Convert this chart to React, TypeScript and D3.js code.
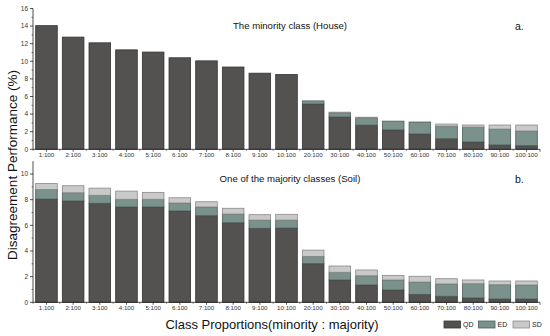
import React from "react";
import * as d3 from "d3";

const categories = ["1:100","2:100","3:100","4:100","5:100","6:100","7:100","8:100","9:100","10:100","20:100","30:100","40:100","50:100","60:100","70:100","80:100","90:100","100:100"];

// Panel a: House (stacked QD, ED, SD)
const houseQD = [14.05,12.75,12.1,11.3,11.05,10.4,10.05,9.35,8.65,8.5,5.15,3.67,2.75,2.2,1.74,1.2,0.83,0.49,0.41];
const houseED = [0,0,0,0,0,0,0,0,0,0,0.35,0.45,0.8,1.0,1.36,1.44,1.69,1.81,1.67];
const houseSD = [0,0,0,0,0,0,0,0,0,0,0,0.1,0.1,0,0,0.23,0.24,0.46,0.68];

// Panel b: Soil
const soilQD = [8.05,7.9,7.72,7.43,7.43,7.12,6.75,6.2,5.77,5.79,3.01,1.74,1.35,0.96,0.62,0.47,0.34,0.26,0.26];
const soilED = [0.75,0.64,0.62,0.6,0.6,0.62,0.68,0.68,0.64,0.62,0.57,0.6,0.72,0.78,0.96,0.96,1.11,1.11,1.09];
const soilSD = [0.47,0.55,0.56,0.64,0.54,0.41,0.41,0.45,0.42,0.45,0.49,0.49,0.45,0.36,0.45,0.41,0.29,0.29,0.31];

const yTicksA = [0,2,4,6,8,10,12,14,16];
const yTicksB = [0,2,4,6,8,10];
const seriesNames = ["QD","ED","SD"];
const colors = ["#545251","#7b918c","#c9c9c9"];
const strokes = ["#333333","#4e5e5a","#8a8a8a"];

const FONT = "Arial, 'Liberation Sans', Helvetica, sans-serif";

function Panel({ qd, ed, sd, domainMax, ticks, top, bottom, title, tag }: any) {
  const x = d3.scaleBand<string>().domain(categories).range([33, 540]).paddingInner(0.19).paddingOuter(0.1);
  const y = d3.scaleLinear().domain([0, domainMax]).range([bottom, top]);
  const rows = categories.map((c, i) => ({ c, QD: qd[i], ED: ed[i], SD: sd[i] }));
  const stack = d3.stack<any>().keys(seriesNames)(rows);
  const minor = d3.range(1, domainMax, 1).filter((v) => v % 2 === 1);
  const step = x.step();
  return (
    <g>
      {stack.map((layer, li) => (
        <g key={li}>
          {layer.map((d, i) => {
            const h = y(d[0]) - y(d[1]);
            if (h <= 0.01) return null;
            return (
              <rect key={i} x={x(categories[i])!} y={y(d[1])} width={x.bandwidth()} height={h}
                fill={colors[li]} stroke={strokes[li]} strokeWidth={0.8} />
            );
          })}
        </g>
      ))}
      {/* y axis */}
      <line x1={33} x2={33} y1={top} y2={bottom} stroke="#222" strokeWidth={0.8} />
      {ticks.map((t: number) => (
        <g key={t}>
          <line x1={30} x2={33} y1={y(t)} y2={y(t)} stroke="#222" strokeWidth={0.8} />
          <text x={28} y={y(t)} dy="0.35em" textAnchor="end" fontSize={6.5} fill="#333" fontFamily={FONT}>{t}</text>
        </g>
      ))}
      {minor.map((t: number) => (
        <line key={"m" + t} x1={31.5} x2={33} y1={y(t)} y2={y(t)} stroke="#222" strokeWidth={0.6} />
      ))}
      {/* x axis */}
      <line x1={33} x2={540} y1={bottom} y2={bottom} stroke="#222" strokeWidth={0.8} />
      {categories.map((c, i) => (
        <g key={c}>
          <line x1={x(c)! + x.bandwidth() / 2} x2={x(c)! + x.bandwidth() / 2} y1={bottom} y2={bottom + 2.5} stroke="#222" strokeWidth={0.7} />
          <line x1={x(c)! - (step - x.bandwidth()) / 2} x2={x(c)! - (step - x.bandwidth()) / 2} y1={bottom} y2={bottom + 1.5} stroke="#222" strokeWidth={0.6} />
          <text x={x(c)! + x.bandwidth() / 2} y={bottom + 8} textAnchor="middle" fontSize={6.2} fill="#333" fontFamily={FONT}>{c}</text>
        </g>
      ))}
      <line x1={540} x2={540} y1={bottom} y2={bottom + 2.5} stroke="#222" strokeWidth={0.7} />
      <text x={290} y={top + 20.5} textAnchor="middle" fontSize={9.6} fill="#111" fontFamily={FONT}>{title}</text>
      <text x={515} y={top + 21.5} fontSize={10.5} fill="#111" fontFamily={FONT}>{tag}</text>
    </g>
  );
}

export default function App() {
  return (
    <svg width={550} height={336} style={{ position: "absolute", left: 0, top: 0, background: "#fff" }}>
      <Panel qd={houseQD} ed={houseED} sd={houseSD} domainMax={16} ticks={yTicksA} top={8.5} bottom={149.3}
        title="The minority class (House)" tag="a." />
      <Panel qd={soilQD} ed={soilED} sd={soilSD} domainMax={11} ticks={yTicksB} top={161.2} bottom={302.3}
        title="One of the majority classes (Soil)" tag="b." />
      <text transform="translate(17,165) rotate(-90)" textAnchor="middle" fontSize={13.5} fill="#111" fontFamily={FONT}>Disagreement Performance (%)</text>
      <text x={272} y={329} textAnchor="middle" fontSize={13} fill="#111" fontFamily={FONT}>Class Proportions(minority : majority)</text>
      {seriesNames.map((s, i) => (
        <g key={s}>
          <rect x={444 + i * 34.5} y={321} width={16.5} height={7} fill={colors[i]} stroke={strokes[i]} strokeWidth={0.8} />
          <text x={463 + i * 34.5} y={327.3} fontSize={7} fill="#222" fontFamily={FONT}>{s}</text>
        </g>
      ))}
    </svg>
  );
}
